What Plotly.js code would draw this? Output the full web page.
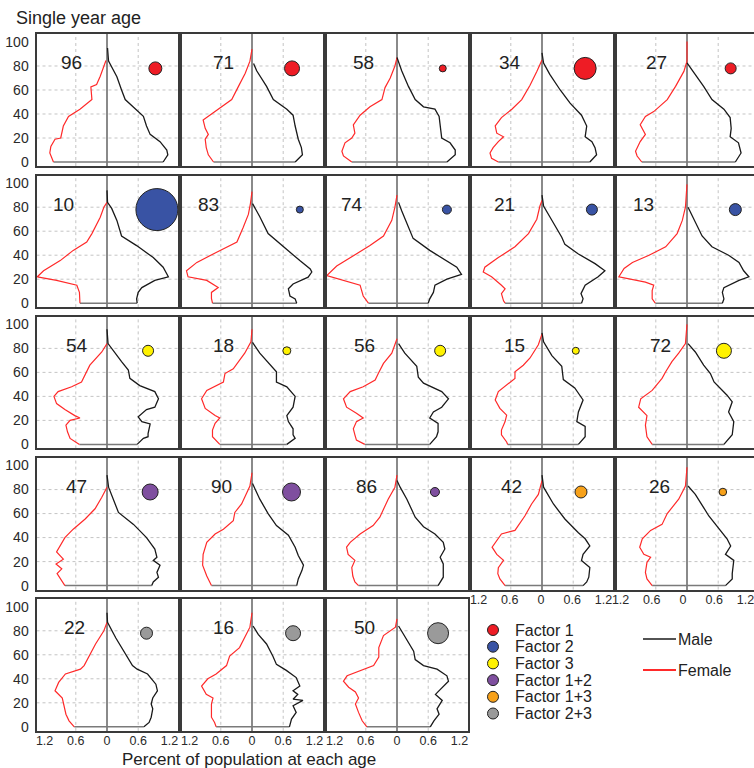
<!DOCTYPE html>
<html><head><meta charset="utf-8">
<script src="https://cdn.plot.ly/plotly-3.0.1.min.js"></script>
<style>html,body{margin:0;padding:0;overflow:hidden;background:#fff}#chart{width:754px;height:768px}</style>
</head><body><div id="chart"></div>
<script>
// ---------- DATA ----------
const PANEL_IDS = [96,71,58,34,27, 10,83,74,21,13, 54,18,56,15,72, 47,90,86,42,26, 22,16,50];
const PANEL_FACTOR = [0,0,0,0,0, 1,1,1,1,1, 2,2,2,2,2, 3,3,3,4,4, 5,5,5];
const DOT_SIZE = [13,15,7,22,11, 42,7,9,11,12, 11,8,11,7,15, 16,18,9,12,7.5, 12,15,21];
const DOT_X = [0.93,0.77,0.88,0.83,0.84, 0.96,0.92,0.96,0.96,0.93, 0.79,0.67,0.83,0.65,0.71, 0.83,0.76,0.73,0.75,0.69, 0.76,0.79,0.79];
const DOT_AGE = 78;
const LABEL_X = [-0.68,-0.54,-0.65,-0.62,-0.58, -0.84,-0.83,-0.87,-0.72,-0.83, -0.58,-0.55,-0.62,-0.52,-0.51, -0.58,-0.58,-0.58,-0.58,-0.52, -0.63,-0.55,-0.62];
const LABEL_AGE = 82.5;
const FACTOR_NAMES = ['Factor 1','Factor 2','Factor 3','Factor 1+2','Factor 1+3','Factor 2+3'];
const FACTOR_COLORS = ['#ee1c25','#3953a4','#fff200','#7f4f9f','#f7a11a','#9a9a9a'];
const SEX_NAMES = ['Male','Female'];
const SEX_COLORS = ['#1a1a1a','#ff2a2a'];
const X_TICK_VALUES = [-1.2,-0.6,0,0.6,1.2];
const X_TICK_LABELS = ['1.2','0.6','0','0.6','1.2'];
const X_GRID = [-0.6,0.6];
const Y_TICK_VALUES = [0,20,40,60,80,100];
const Y_GRID = [20,40,60,80];

const F_AGE = [
 [0,7.5,13,19,20,30,38,44,52,62.5,64.5,71.5,84.5],
 [0,6,12,19,23,28,35,39,45,52,63,74,84,94],
 [0,5,9,16,20,24,31,39,46,52,62,70,80,87],
 [0,3,7.5,12,17,21,24,30,37,44,52,64,75.5,85],
 [0,5,9,17,23,31,38,42,52,63,75.5,84,100.5],
 [0,2,9,15,19,22,27,35.5,44,51,58,71.7,80,84],
 [0,4,9,13,19,22,27,34,42.5,51,63,74,83,93],
 [0,6,15,19,23,31,38,48,56,69,80,90],
 [0,2,8,12,15,22,26,30,38,47,58,70,81,85.5],
 [0,3.6,10.5,15,17.5,22,29,34,40,47,58,69,80,99],
 [0,5,10.5,16,20,22,24,29,34,40,44,48,52,66,77,84],
 [0,6.4,12,17.5,22,24,30,38,45,49,52,59,63,76,85.5,96],
 [0,3.6,8,13,19,22,26,31,38,44,48,53.6,59,67.5,76,83,88],
 [0,2,8,12,19,24.4,30,37,44,51,55,60.5,66,72,83,92],
 [0,6.4,16,24,31,38,45,55,60.5,69,76,84,100],
 [0,5.6,10,14,18,22,28,40,47,55.5,64,73.6,82],
 [0,8,17,26,36,43,47,54,61,68,83,94],
 [0,3,8,15,21,26,32,36,43,50,57,72,82,92],
 [0,5.6,10,15,21,26,32,37.5,43,46,58,68,76,87.5],
 [0,5.6,11,19.4,23.6,26,32,39,46,51,60,72,83,98.6],
 [0,5,10.5,19,24,30,37,44,48,51,62,69,80,87],
 [0,3.6,8,19,24,27,34,40,44,51,59,66,83,95],
 [0,5,12,19,24,29,33,38,42.5,47,51,58,66,76,83,90]
];
const F_VAL = [
 [1.03,1.10,1.08,1.0,0.89,0.84,0.74,0.52,0.29,0.31,0.20,0.13,0.02],
 [0.74,0.84,0.88,0.90,0.84,0.90,0.94,0.81,0.62,0.39,0.26,0.13,0.04,0.0],
 [0.87,1.03,1.06,1.0,0.87,0.81,0.84,0.71,0.52,0.29,0.23,0.13,0.04,0.0],
 [0.84,0.97,1.0,0.94,0.84,0.74,0.87,0.90,0.78,0.58,0.39,0.23,0.10,0.0],
 [0.87,0.96,0.99,0.90,0.80,0.90,0.80,0.64,0.38,0.22,0.06,0.0,0.0],
 [0.52,0.52,0.53,0.58,0.97,1.34,1.22,0.90,0.65,0.39,0.29,0.13,0.06,0.0],
 [0.76,0.78,0.78,0.65,0.87,1.23,1.26,1.06,0.68,0.29,0.17,0.07,0.03,0.0],
 [0.55,0.65,0.71,1.03,1.35,1.16,0.90,0.52,0.26,0.10,0.04,0.0],
 [0.71,0.74,0.78,0.71,0.78,0.97,1.13,1.10,0.84,0.52,0.26,0.10,0.04,0.0],
 [0.61,0.67,0.67,0.64,0.80,1.31,1.21,1.05,0.73,0.41,0.19,0.09,0.03,0.0],
 [0.53,0.71,0.76,0.79,0.71,0.52,0.62,0.81,0.97,1.02,0.94,0.68,0.49,0.33,0.10,0.0],
 [0.62,0.76,0.76,0.71,0.62,0.71,0.90,0.97,0.87,0.68,0.55,0.52,0.36,0.14,0.02,0.0],
 [0.62,0.78,0.81,0.84,0.78,0.65,0.78,0.97,1.03,0.90,0.65,0.42,0.36,0.26,0.10,0.04,0.0],
 [0.66,0.68,0.78,0.78,0.71,0.68,0.81,0.90,0.84,0.65,0.52,0.52,0.36,0.23,0.07,0.0],
 [0.67,0.77,0.80,0.77,0.93,0.89,0.67,0.48,0.41,0.29,0.16,0.03,0.0],
 [0.81,0.90,0.96,0.87,0.98,0.84,0.97,0.81,0.65,0.42,0.23,0.10,0.0],
 [0.78,0.87,0.95,0.94,0.87,0.71,0.55,0.36,0.33,0.20,0.04,0.0],
 [0.74,0.81,0.85,0.87,0.81,0.94,0.97,0.90,0.71,0.46,0.33,0.17,0.04,0.0],
 [0.71,0.81,0.85,0.84,0.74,0.87,0.96,0.87,0.78,0.52,0.33,0.20,0.07,0.0],
 [0.67,0.77,0.80,0.77,0.70,0.83,0.91,0.86,0.70,0.48,0.38,0.16,0.03,0.0],
 [0.63,0.73,0.79,0.83,0.86,1.0,0.93,0.80,0.51,0.44,0.31,0.22,0.06,0.0],
 [0.69,0.72,0.78,0.78,0.75,0.88,0.97,0.85,0.69,0.49,0.43,0.24,0.04,0.0],
 [0.58,0.67,0.74,0.80,0.74,0.80,0.93,1.03,0.96,0.71,0.45,0.35,0.35,0.26,0.03,0.0]
];
const M_AGE = [
 [0,6,10,17,23,30,38,46,52,60,71,84,95],
 [0,6,12,19,30,39,44,52,63,76,82],
 [0,6,10,16,20,27,38,44,46,52,63,76,87],
 [0,6,12,17,21,30,39,49,60,73,82.5,91],
 [0,7.5,16,21,28,37,44,52,63,75,82.5],
 [0,3.6,9,13,19,22,30,38,48,56,69,79,84,94],
 [0,3.6,6,12,16,21.7,26,28.6,35.5,47,58,72,83],
 [0,3.6,9,15,20,24,30,37,44,54,63,77,84],
 [0,3.6,8,15,22,27,33,41,49,55,72,81,90],
 [0,3.6,9,13,19,22,27,34,40,47,56,72,80],
 [0,5,6.4,9,17,19,23,29,31,38,44,49,55,62,69,77,84,96],
 [0,5,8,13,19,24,31,40,48,52,60.5,65,76,85],
 [0,6.4,10.5,17.5,22,27,31,38,44,51,56,65,76,84],
 [0,6.4,15,19,27,37,47,54,65,74,85.5,93],
 [0,8,19,27,35.5,41,52,59,66,77,84],
 [0,3,7,11,17,21,23.6,30.5,40,51,61,82,92],
 [0,5.6,12.5,17,25,32,42,50,60,72,85],
 [0,7,18,23.6,30.5,36,43,49,57,72,82,87.5],
 [0,3,7,15,21,26,33,39,44,55.5,68,82,92],
 [0,5.6,10,21,26,33,39,46,54,58,65,76,83],
 [0,3.6,8,15,19,24,30,35.5,44,48,51,60,74,87,95],
 [0,6.4,12,17.5,22,23,27,30,34,41,47,52,59,69,77,84],
 [0,5,10.5,15,22,27,31,38,42.5,48,51,56,63,77,84]
];
const M_VAL = [
 [1.08,1.17,1.15,1.02,0.83,0.76,0.70,0.51,0.35,0.28,0.19,0.03,0.01],
 [0.83,0.97,0.95,0.89,0.83,0.79,0.67,0.41,0.28,0.09,0.03],
 [0.96,1.12,1.12,1.02,0.86,0.84,0.81,0.73,0.51,0.35,0.22,0.09,0.0],
 [0.92,1.05,1.02,0.96,0.83,0.86,0.76,0.54,0.35,0.15,0.03,0.0],
 [0.93,1.04,0.99,0.83,0.85,0.83,0.71,0.48,0.32,0.13,0.0],
 [0.58,0.57,0.60,0.67,0.92,1.18,1.08,0.89,0.57,0.28,0.19,0.09,0.01,0.0],
 [0.86,0.83,0.73,0.70,0.79,1.08,1.15,1.12,0.92,0.60,0.31,0.15,0.01],
 [0.60,0.63,0.70,0.73,0.96,1.24,1.15,0.89,0.63,0.31,0.22,0.09,0.03],
 [0.76,0.79,0.75,0.83,1.08,1.21,1.02,0.70,0.44,0.38,0.15,0.03,0.0],
 [0.68,0.71,0.68,0.71,1.0,1.19,1.09,1.0,0.80,0.48,0.29,0.10,0.02],
 [0.58,0.70,0.79,0.79,0.83,0.67,0.60,0.76,0.92,0.99,0.92,0.63,0.44,0.41,0.28,0.15,0.02,0.0],
 [0.67,0.83,0.79,0.79,0.70,0.67,0.79,0.83,0.67,0.47,0.47,0.38,0.15,0.01],
 [0.63,0.76,0.79,0.79,0.63,0.70,0.86,0.99,0.86,0.51,0.41,0.38,0.15,0.03],
 [0.70,0.83,0.83,0.67,0.70,0.79,0.63,0.41,0.38,0.19,0.03,0.0],
 [0.71,0.87,0.90,0.80,0.87,0.77,0.52,0.45,0.32,0.16,0.02],
 [0.86,0.89,0.99,0.96,1.02,0.89,0.96,0.92,0.76,0.51,0.22,0.03,0.0],
 [0.86,0.89,0.96,0.99,0.89,0.83,0.70,0.47,0.31,0.15,0.01],
 [0.79,0.89,0.89,0.83,0.92,0.89,0.73,0.51,0.35,0.19,0.06,0.0],
 [0.79,0.86,0.90,0.92,0.76,0.79,0.92,0.83,0.70,0.44,0.22,0.03,0.0],
 [0.74,0.87,0.87,0.90,0.74,0.84,0.77,0.64,0.48,0.42,0.32,0.16,0.02],
 [0.71,0.81,0.85,0.88,0.85,0.88,0.97,0.94,0.78,0.58,0.49,0.36,0.17,0.01,0.0],
 [0.72,0.76,0.85,0.79,0.98,0.79,0.88,0.79,0.92,0.85,0.66,0.47,0.40,0.28,0.12,0.02],
 [0.64,0.71,0.81,0.77,0.87,0.74,0.83,0.99,0.96,0.77,0.51,0.35,0.32,0.13,0.03]
];

// ---------- LAYOUT ----------
const W = 754, H = 768;
const FONT = 'Liberation Sans, Arial, sans-serif';
const TXT = '#222';
const PANEL_W = 141, PANEL_H = 131.7;
const XR = 1.356;
const PXU = PANEL_W / (2 * XR);           // pixels per unit on every panel
const YR = [-3.33, 106.4];
const LABEL_SHIFT = [0, 0, 0, -1, -4];     // per column, keeps tick labels apart / on page
const PX = x => x / W, PY = y => 1 - y / H;

const traces = [];
const layout = {
  width: W, height: H, margin: {l:0, r:0, t:0, b:0},
  paper_bgcolor: '#fff', plot_bgcolor: '#fff', showlegend: false,
  font: {family: FONT, color: TXT},
  shapes: [], annotations: []
};

PANEL_IDS.forEach((id, i) => {
  const r = Math.floor(i / 5), c = i % 5;
  const left = 36.5 + 145 * c, top = 34.3 + 141.2 * r;
  const right = Math.min(left + PANEL_W, W);
  const cut = right < left + PANEL_W;
  const n = i === 0 ? '' : String(i + 1);
  const xr = 'x' + n, yr = 'y' + n;
  const bottom = (r === 4) || (r === 3 && c >= 3);
  layout['xaxis' + n] = {
    domain: [PX(left), PX(right)], anchor: yr, range: [-XR, -XR + (right - left) / PXU],
    tickmode: 'array', tickvals: X_TICK_VALUES, ticktext: X_TICK_LABELS,
    showticklabels: bottom, ticks: '', showgrid: false, ticklabeloverflow: 'allow',
    ticklabelshift: LABEL_SHIFT[c],
    zeroline: true, zerolinecolor: '#8a8a8a', zerolinewidth: 1.5,
    showline: true, mirror: true, linecolor: '#3a3a3a', linewidth: 2,
    tickfont: {size: 12.5, color: '#2a2a2a', family: FONT}, ticklabelstandoff: -3, fixedrange: true
  };
  layout['yaxis' + n] = {
    domain: [PY(top + PANEL_H), PY(top)], anchor: xr, range: YR,
    tickmode: 'array', tickvals: Y_TICK_VALUES,
    showticklabels: c === 0, ticks: '', showgrid: false, zeroline: false,
    showline: true, mirror: !cut, linecolor: '#3a3a3a', linewidth: 2,
    tickfont: {size: 14, color: '#2a2a2a', family: FONT}, ticklabelstandoff: 3, fixedrange: true
  };
  X_GRID.forEach(g => layout.shapes.push({type:'line', layer:'below', xref: xr, yref: yr + ' domain',
    x0: g, x1: g, y0: 0, y1: 1, line: {color: '#c4c4c4', width: 1, dash: 'dot'}}));
  Y_GRID.forEach(g => layout.shapes.push({type:'line', layer:'below', xref: xr + ' domain', yref: yr,
    x0: 0, x1: 1, y0: g, y1: g, line: {color: '#c4c4c4', width: 1, dash: 'dot'}}));

  // closing base line between the two youngest values
  traces.push({type:'scatter', mode:'lines', xaxis: xr, yaxis: yr, hoverinfo:'skip',
    x: [-F_VAL[i][0], M_VAL[i][0]], y: [F_AGE[i][0], M_AGE[i][0]],
    line: {color: '#7a7a7a', width: 1.5}});
  traces.push({type:'scatter', mode:'lines', name: SEX_NAMES[1], xaxis: xr, yaxis: yr,
    x: F_VAL[i].map(v => -v), y: F_AGE[i], line: {color: SEX_COLORS[1], width: 1.2}});
  traces.push({type:'scatter', mode:'lines', name: SEX_NAMES[0], xaxis: xr, yaxis: yr,
    x: M_VAL[i], y: M_AGE[i], line: {color: SEX_COLORS[0], width: 1.3}});
  traces.push({type:'scatter', mode:'markers', name: FACTOR_NAMES[PANEL_FACTOR[i]], xaxis: xr, yaxis: yr,
    x: [DOT_X[i]], y: [DOT_AGE], cliponaxis: false,
    marker: {size: DOT_SIZE[i], color: FACTOR_COLORS[PANEL_FACTOR[i]], line: {color: '#222', width: 1}}});

  layout.annotations.push({xref: xr, yref: yr, x: LABEL_X[i], y: LABEL_AGE, text: String(id),
    showarrow: false, xanchor: 'center', yanchor: 'middle', font: {size: 19, color: TXT, family: FONT}});
});

// titles
layout.annotations.push({xref:'paper', yref:'paper', x: PX(14), y: PY(18), xanchor:'left', yanchor:'middle',
  text: 'Single year age', showarrow: false, font: {size: 18, color: TXT, family: FONT}});
layout.annotations.push({xref:'paper', yref:'paper', x: PX(249), y: PY(759), xanchor:'center', yanchor:'middle',
  text: 'Percent of population at each age', showarrow: false, font: {size: 17, color: TXT, family: FONT}});

// legend (factors)
FACTOR_NAMES.forEach((name, k) => {
  const cy = 630 + 16.7 * k;
  layout.shapes.push({type:'circle', xref:'paper', yref:'paper', xsizemode:'pixel', ysizemode:'pixel',
    xanchor: PX(493), yanchor: PY(cy), x0: -5.5, x1: 5.5, y0: -5.5, y1: 5.5,
    fillcolor: FACTOR_COLORS[k], line: {color: '#222', width: 1}});
  layout.annotations.push({xref:'paper', yref:'paper', x: PX(513), y: PY(cy), xanchor:'left', yanchor:'middle',
    text: name, showarrow: false, font: {size: 16, color: TXT, family: FONT}});
});
// legend (sexes)
SEX_NAMES.forEach((name, k) => {
  const cy = 639 + 31 * k;
  layout.shapes.push({type:'line', xref:'paper', yref:'paper', x0: PX(643), x1: PX(676), y0: PY(cy), y1: PY(cy),
    line: {color: SEX_COLORS[k], width: k ? 2 : 1.3}});
  layout.annotations.push({xref:'paper', yref:'paper', x: PX(676), y: PY(cy), xanchor:'left', yanchor:'middle',
    text: name, showarrow: false, font: {size: 16, color: TXT, family: FONT}});
});

Plotly.newPlot('chart', traces, layout, {displayModeBar: false, staticPlot: true});
</script></body></html>
